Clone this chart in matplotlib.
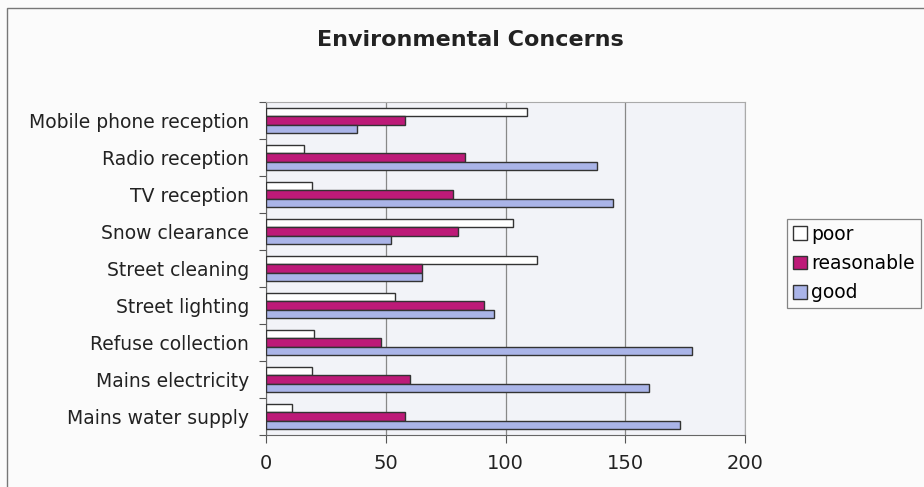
import matplotlib.pyplot as plt
import matplotlib.patches as mpatches
import numpy as np

categories = ['Mobile phone reception', 'Radio reception', 'TV reception',
              'Snow clearance', 'Street cleaning', 'Street lighting',
              'Refuse collection', 'Mains electricity', 'Mains water supply']
poor = [109, 16, 19, 103, 113, 54, 20, 19, 11]
reasonable = [58, 83, 78, 80, 65, 91, 48, 60, 58]
good = [38, 138, 145, 52, 65, 95, 178, 160, 173]
xticks = [0, 50, 100, 150, 200]

plt.rcParams['font.family'] = ['DejaVu Sans']

fig = plt.figure(figsize=(9.24, 4.87), dpi=100, facecolor='#fbfbfb')
ax = fig.add_axes([266 / 924, 1 - 435 / 487, (745 - 266) / 924, (435 - 102) / 487])
ax.set_facecolor('#f2f3f8')

# outer chart border (cut off at right and bottom like the scan)
fig.patches.append(mpatches.Rectangle((7 / 924, -0.1), 1.1, 1 - 8 / 487 + 0.1,
                                      transform=fig.transFigure, fill=False,
                                      edgecolor='#777777', linewidth=1.0))

n = len(categories)
y = np.arange(n)[::-1].astype(float)
h = 0.22
ax.barh(y + h, poor, height=h, color='white', edgecolor='#333333', linewidth=1.0,
        label='poor', zorder=3)
ax.barh(y, reasonable, height=h, color='#bd1a78', edgecolor='#333333', linewidth=1.0,
        label='reasonable', zorder=3)
ax.barh(y - h, good, height=h, color='#aab4e8', edgecolor='#333333', linewidth=1.0,
        label='good', zorder=3)

ax.set_xlim(0, 200)
ax.set_ylim(-0.5, n - 0.5)
ax.set_xticks(xticks)
ax.set_xticklabels([str(v) for v in xticks], fontsize=14, color='#222222')
ax.tick_params(axis='x', length=6, pad=8, color='#555555')

ax.set_yticks(np.arange(n + 1) - 0.5)
ax.set_yticklabels([])
ax.tick_params(axis='y', which='major', length=5, color='#555555')
ax.set_yticks(y, minor=True)
ax.set_yticklabels(categories, minor=True, fontsize=13.5, color='#222222')
ax.tick_params(axis='y', which='minor', length=0, pad=12)

ax.grid(axis='x', color='#888888', linewidth=0.9, zorder=0)
for side in ['top', 'right']:
    ax.spines[side].set_color('#aaaaaa')
for side in ['left', 'bottom']:
    ax.spines[side].set_color('#666666')

fig.text(470 / 924, 1 - 40 / 487, 'Environmental Concerns', ha='center', va='center',
         fontsize=16, fontweight='bold', color='#222222')

leg = fig.legend(loc='upper left', bbox_to_anchor=(787 / 924, 1 - 219 / 487),
                 fontsize=13.5, frameon=True, fancybox=False, handlelength=0.75,
                 handleheight=0.75, handletextpad=0.25, borderpad=0.3,
                 labelspacing=0.55, borderaxespad=0)
leg.get_frame().set_edgecolor('#666666')
leg.get_frame().set_facecolor('#fbfbfb')
leg.get_frame().set_linewidth(0.9)

fig.savefig('out.png', dpi=100, facecolor=fig.get_facecolor())
